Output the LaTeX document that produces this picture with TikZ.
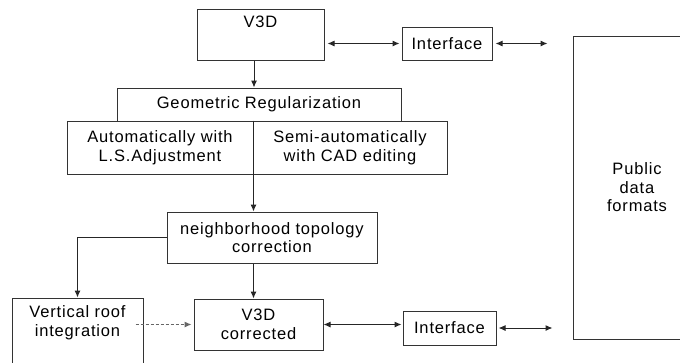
\documentclass[tikz,border=0pt]{standalone}
\usepackage{fontspec}
\setmainfont{Liberation Sans}[LetterSpace=5]
\usetikzlibrary{arrows.meta,calc}
\tikzset{
  box/.style={draw=black!80, line width=1pt, rectangle, inner sep=0pt, align=center,
    font=\fontsize{16.5}{18.5}\selectfont},
  lbl/.style={inner sep=0pt, align=center, font=\fontsize{16.5}{18.5}\selectfont},
  conn/.style={draw=black!85, line width=1pt, -{Latex[length=7pt,width=6pt]}},
  biconn/.style={draw=black!85, line width=1pt, {Latex[length=7pt,width=6pt]}-{Latex[length=7pt,width=6pt]}},
}
\begin{document}
\begin{tikzpicture}[x=1pt,y=-1pt]
\useasboundingbox (0,0) rectangle (680,362);
% nodes
\node[box, minimum width=127pt, minimum height=51pt,
  label={[lbl, anchor=north, yshift=-7pt]north:V3D}] (v3d) at (260.5,34.5) {};
\node[box, minimum width=90pt, minimum height=33pt] (if1) at (447,43.5) {Interface};
\node[box, minimum width=128pt, minimum height=303pt] (pub) at (637,187.5) {Public\\data\\formats};
\node[box, minimum width=284pt, minimum height=33pt] (geo) at (259,104.5) {Geometric Regularization};
\node[box, minimum width=186pt, minimum height=53pt] (auto) at (160,147.5) {Automatically with\\L.S.Adjustment};
\node[box, minimum width=194pt, minimum height=53pt] (semi) at (350,147.5) {Semi-automatically\\with CAD editing};
\node[box, minimum width=210pt, minimum height=51pt] (nb) at (272,237.5) {neighborhood topology\\correction};
\node[box, minimum width=131pt, minimum height=100pt,
  label={[lbl, anchor=north, yshift=-8pt]north:Vertical roof\\integration}] (vr) at (77.5,348) {};
\node[box, minimum width=129pt, minimum height=51pt] (vc) at (258.5,324.5) {V3D\\corrected};
\node[box, minimum width=93pt, minimum height=34pt] (if2) at (449.5,328) {Interface};
% free ends
\coordinate (e1) at ($(pub.west |- if1.east)+(-25pt,0)$);
\coordinate (e2) at ($(pub.west |- if2.east)+(-20pt,0)$);
\coordinate (split) at (auto.north east);
% connectors
\draw[conn] ([xshift=-6.5pt]v3d.south) -- ([xshift=-6.5pt]v3d.south |- geo.north);
\draw[biconn, shorten <=3pt, shorten >=2pt] (v3d.east |- if1.west) -- (if1.west);
\draw[biconn, shorten <=3pt] (if1.east) -- (e1);
\draw[conn] (split) -- (split |- nb.north);
\draw[conn] (nb.west) -| (vr.north);
\draw[conn] (split |- nb.south) -- (split |- vc.north);
\draw[conn, dashed, dash pattern=on 3pt off 2pt, draw=black!60] ([xshift=-8pt]vr.east |- vc.west) -- ([xshift=-2pt]vc.west);
\draw[biconn, shorten >=1pt] (vc.east) -- (vc.east -| if2.west);
\draw[biconn, shorten <=2pt] (if2.east) -- (e2);
\end{tikzpicture}
\end{document}
